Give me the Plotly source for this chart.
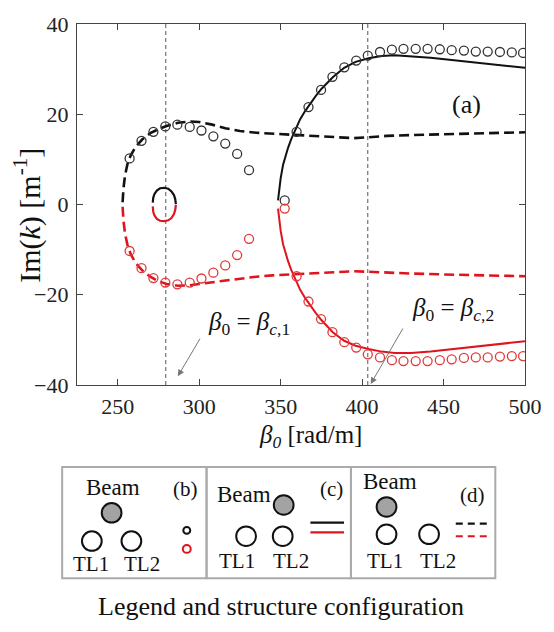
import plotly.graph_objects as go

# ---------------- data ----------------
# open circles (config b), first branch
beta_circ_1 = [257.3, 264.6, 271.9, 279.2, 286.6, 294.2, 301.4, 308.7, 316.0, 323.3, 330.6]
im_circ_black_1 = [10.2, 14.1, 16.1, 17.3, 17.7, 17.2, 16.4, 15.1, 13.5, 11.2, 7.6]
im_circ_red_1 = [-10.3, -14.1, -16.3, -17.3, -17.7, -17.3, -16.4, -15.1, -13.5, -11.2, -7.6]
# open circles (config b), second branch
beta_circ_2 = [352.5, 359.8, 367.1, 374.8, 381.8, 389.1, 396.4, 403.5, 411.0, 418.3, 425.4,
               432.9, 440.2, 447.7, 455.0, 462.5, 469.8, 477.1, 484.6, 491.9, 498.8]
im_circ_black_2 = [0.9, 16.1, 21.6, 25.4, 28.3, 30.4, 31.9, 33.0, 33.8, 34.3, 34.5,
                   34.5, 34.5, 34.4, 34.2, 34.1, 33.9, 33.9, 33.8, 33.7, 33.6]
im_circ_red_2 = [-0.9, -15.9, -21.5, -25.4, -28.3, -30.5, -31.7, -33.2, -33.9, -34.5, -34.7,
                 -34.7, -34.7, -34.5, -34.3, -34.0, -33.9, -33.9, -33.7, -33.6, -33.6]

# dashed lines (config d)
beta_d = [253.0, 253.5, 254.5, 256, 258, 261, 265, 270, 275, 280, 287, 294, 300, 308, 316,
          325, 335, 345, 355, 365, 375, 385, 395, 404, 415, 430, 450, 470, 490, 500]
im_d_black = [0.5, 3.5, 6.5, 9.0, 10.9, 12.8, 14.4, 15.8, 16.7, 17.4, 18.1, 18.4, 18.3, 17.7, 16.9,
              16.3, 15.9, 15.7, 15.5, 15.3, 15.0, 14.8, 14.7, 14.9, 15.2, 15.4, 15.6, 15.8, 15.9, 16.0]
im_d_red = [-0.5, -3.5, -6.5, -9.0, -11.0, -13.0, -14.6, -16.0, -17.0, -17.6, -18.0, -17.9, -17.6, -17.2, -16.8,
            -16.4, -16.0, -15.7, -15.5, -15.3, -15.1, -14.9, -14.8, -14.9, -15.1, -15.3, -15.5, -15.7, -15.8, -15.9]

# solid lines (config c), second branch
beta_c = [348.4, 349.0, 350.0, 351.5, 353.0, 354.5, 356.5, 359, 362, 365, 368, 371.5, 375,
          382, 389, 396, 404, 412, 420, 430, 442, 455, 470, 485, 500]
im_c_black = [0.9, 3.0, 5.8, 8.8, 10.8, 12.5, 14.5, 16.6, 18.9, 20.7, 22.3, 24.0, 25.6,
              28.2, 30.3, 31.6, 32.4, 32.9, 33.1, 32.9, 32.5, 32.0, 31.4, 30.8, 30.3]
im_c_red = [-0.9, -3.0, -5.8, -8.8, -10.8, -12.5, -14.5, -16.6, -18.9, -20.7, -22.3, -24.0, -25.6,
            -28.3, -30.2, -31.3, -32.0, -32.6, -32.9, -32.9, -32.6, -32.1, -31.5, -30.9, -30.3]

# small loop (config c) near beta_c,1
beta_loop = [271.5, 271.8, 272.5, 274, 276, 278.5, 281, 283, 284.5, 285.3, 285.7]
im_loop_black = [0.4, 1.5, 2.3, 3.1, 3.6, 3.7, 3.5, 2.9, 2.1, 1.2, 0.1]
im_loop_red = [-0.4, -1.6, -2.4, -3.2, -3.6, -3.7, -3.5, -3.0, -2.1, -1.2, -0.1]

# critical wavenumbers
beta_crit = [279.5, 403.5]

x_ticks = [250, 300, 350, 400, 450, 500]
y_ticks = [-40, -20, 0, 20, 40]

# ---------------- styles ----------------
BLACK = "#111111"
RED = "#e0141e"
FONT = "Liberation Serif, Times New Roman, serif"

fig = go.Figure()

def line(x, y, color, dash=None, width=2.0):
    fig.add_trace(go.Scatter(x=x, y=y, mode="lines",
                             line=dict(color=color, width=width, dash=dash),
                             showlegend=False, hoverinfo="skip"))

def circles(x, y, color):
    fig.add_trace(go.Scatter(x=x, y=y, mode="markers",
                             marker=dict(symbol="circle-open", size=9, color=color,
                                         line=dict(width=1.3, color=color)),
                             showlegend=False, hoverinfo="skip"))

line(beta_d, im_d_black, BLACK, dash="10px,5px", width=2.6)
line(beta_d, im_d_red, RED, dash="10px,5px", width=2.6)
line(beta_c, im_c_black, BLACK, width=2.0)
line(beta_c, im_c_red, RED, width=2.0)
line(beta_loop, im_loop_black, BLACK, width=2.2)
line(beta_loop, im_loop_red, RED, width=2.2)
circles(beta_circ_1, im_circ_black_1, "#333333")
circles(beta_circ_2, im_circ_black_2, "#333333")
circles(beta_circ_1, im_circ_red_1, "#e03a3a")
circles(beta_circ_2, im_circ_red_2, "#e03a3a")

# ---------------- layout geometry ----------------
W, H = 554, 632
L, R, T, B = 77, 24, 15, 247
PW, PH = W - L - R, H - T - B

def px(x):
    return (x - L) / PW

def py(y):
    return (T + PH - y) / PH

shapes = []
for bc in beta_crit:
    shapes.append(dict(type="line", xref="x", yref="paper", x0=bc, x1=bc, y0=0, y1=1,
                       line=dict(color="#555555", width=1, dash="4px,3px"), layer="below"))

annotations = []

def text(x, y, s, size=21, color="#111111", angle=0, xanchor="center"):
    annotations.append(dict(x=px(x), y=py(y), xref="paper", yref="paper", text=s,
                            showarrow=False, textangle=angle, xanchor=xanchor, yanchor="middle",
                            font=dict(family=FONT, size=size, color=color)))

# axis titles
text(27, 211, "Im(<i>k</i>) [m<sup>-1</sup>]", size=30, angle=-90)
text(313, 438, "<i>β<sub>0</sub></i> [rad/m]", size=25)

# panel label
text(471, 97, "(a)", size=26)

# arrow labels
text(251, 322, "<i>β</i><sub>0</sub> = <i>β</i><sub><i>c</i>,1</sub>", size=25)
text(457, 308, "<i>β</i><sub>0</sub> = <i>β</i><sub><i>c</i>,2</sub>", size=25)

for hx, hy, tx, ty in [(179, 376, 202, 337), (374, 384, 407, 327)]:
    annotations.append(dict(x=px(hx), y=py(hy), xref="paper", yref="paper",
                            ax=tx - hx, ay=ty - hy, axref="pixel", ayref="pixel",
                            text="", showarrow=True, arrowhead=2, arrowsize=1.3,
                            arrowwidth=1, arrowcolor="#777777"))

# ---------------- legend / structure panels ----------------
box_edges = [(62, 208), (208, 354), (354, 500)]
for x0, x1 in box_edges:
    shapes.append(dict(type="rect", xref="paper", yref="paper",
                       x0=px(x0), x1=px(x1), y0=py(583), y1=py(469),
                       line=dict(color="#aaaaaa", width=2), fillcolor="rgba(0,0,0,0)"))

def disk(cx, cy, r, fill):
    shapes.append(dict(type="circle", xref="paper", yref="paper",
                       x0=px(cx - r), x1=px(cx + r), y0=py(cy + r), y1=py(cy - r),
                       line=dict(color="#111111", width=2), fillcolor=fill))

def seg(x0, x1, y, color, dash=None):
    shapes.append(dict(type="line", xref="paper", yref="paper",
                       x0=px(x0), x1=px(x1), y0=py(y), y1=py(y),
                       line=dict(color=color, width=2.2, dash=dash)))

NONE = "rgba(255,255,255,0)"
GRAY = "#a3a3a3"
BEAM = 23
TL = 21

# (b)
text(113, 490, "Beam", size=BEAM)
text(187, 492, "(b)", size=TL)
disk(112, 516, 10, GRAY)
disk(92, 545, 10, NONE)
disk(132, 545, 10, NONE)
text(91, 568, "TL1", size=TL)
text(143, 568, "TL2", size=TL)
shapes.append(dict(type="circle", xref="paper", yref="paper",
                   x0=px(184.5), x1=px(191.5), y0=py(537.5), y1=py(530.5),
                   line=dict(color="#111111", width=2), fillcolor=NONE))
shapes.append(dict(type="circle", xref="paper", yref="paper",
                   x0=px(184), x1=px(192), y0=py(557), y1=py(549),
                   line=dict(color=RED, width=2), fillcolor=NONE))

# (c)
text(246, 497, "Beam", size=BEAM)
text(334, 492, "(c)", size=TL)
disk(286, 508, 10, GRAY)
disk(248, 540, 10, NONE)
disk(285, 540, 10, NONE)
text(239, 565, "TL1", size=TL)
text(293, 565, "TL2", size=TL)
seg(313, 347, 526, BLACK)
seg(313, 347, 536, RED)

# (d)
text(393, 484, "Beam", size=BEAM)
text(477, 498, "(d)", size=TL)
disk(390, 510, 10, GRAY)
disk(390, 538, 10, NONE)
disk(433, 538, 10, NONE)
text(388, 565, "TL1", size=TL)
text(442, 565, "TL2", size=TL)
seg(460, 494, 527, BLACK, dash="7px,5px")
seg(460, 494, 540, RED, dash="7px,5px")

# caption
text(283, 612, "Legend and structure configuration", size=26)

axis_common = dict(showline=True, linecolor="#444444", linewidth=1.3, mirror="ticks",
                   ticks="inside", ticklen=6, tickcolor="#444444", tickwidth=1.2,
                   showgrid=False, zeroline=False,
                   tickfont=dict(family=FONT, size=22, color="#222222"))

fig.update_layout(
    width=W, height=H,
    margin=dict(l=L, r=R, t=T, b=B),
    paper_bgcolor="white", plot_bgcolor="white",
    xaxis=dict(range=[225, 500], tickvals=x_ticks, ticklabelstandoff=1, **axis_common),
    yaxis=dict(range=[-40, 40], tickvals=y_ticks, ticklabelstandoff=3, **axis_common),
    shapes=shapes, annotations=annotations, showlegend=False,
)

fig.write_html("out.html")
